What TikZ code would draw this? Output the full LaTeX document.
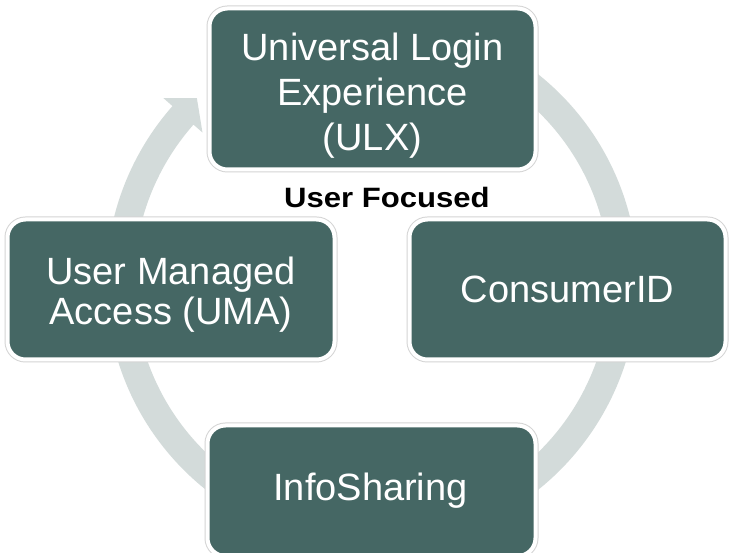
\documentclass[tikz,border=0pt]{standalone}
\usepackage{fontspec}
\setmainfont{Liberation Sans}
\usepackage{graphicx}
\definecolor{boxteal}{RGB}{69,103,100}
\definecolor{boxedge}{RGB}{212,212,212}
\definecolor{ringgray}{RGB}{211,219,218}
\begin{document}
\begin{tikzpicture}[x=1pt,y=1pt,
  cyclebox/.style={rectangle, rounded corners=18pt, fill=boxteal, draw=white,
    line width=4pt, preaction={draw=boxedge, line width=6pt}, inner sep=0pt},
  boxtext/.style={text=white, align=center, inner sep=0pt},
]
\useasboundingbox (0,0) rectangle (731,553);
\clip (0,0) rectangle (731,553);
\fill[white] (0,0) rectangle (731,553);
% ring arrow
\coordinate (c) at (372,271);
\fill[ringgray] ([shift={(100:266)}]c) arc[start angle=100, end angle=-221.4, radius=266]
  -- ([shift={(-221.4:278)}]c) -- ([shift={(-226.4:254)}]c) -- ([shift={(-221.4:226)}]c)
  -- ([shift={(-221.4:238)}]c) arc[start angle=-221.4, end angle=100, radius=238] -- cycle;
% boxes
\node[cyclebox, minimum width=326pt, minimum height=161pt] (ulx) at (372.5,464) {};
\node[cyclebox, minimum width=327pt, minimum height=140pt] (uma) at (171,263.5) {};
\node[cyclebox, minimum width=316pt, minimum height=140pt] (cid) at (567.5,263.5) {};
\node[cyclebox, minimum width=328pt, minimum height=130.5pt] (info) at (371.5,62.25) {};
% texts
\node[boxtext, font=\fontsize{38}{45}\selectfont] (ulxtext) at (372.5,457.5)
  {Universal Login\\Experience\\(ULX)};
\node[boxtext, font=\fontsize{38}{40}\selectfont] (umatext) at (171,258.5)
  {User Managed\\Access (UMA)};
\node[boxtext, font=\fontsize{38}{45}\selectfont] (cidtext) at (567.5,263.5) {ConsumerID};
\node[boxtext, font=\fontsize{38}{45}\selectfont, anchor=base] (infotext) at (370.5,52) {InfoSharing};
\node[anchor=base, inner sep=0pt, font=\bfseries\fontsize{28}{32}\selectfont] (focus) at (387,345)
  {\scalebox{1.11}[1]{User Focused}};
\end{tikzpicture}
\end{document}
